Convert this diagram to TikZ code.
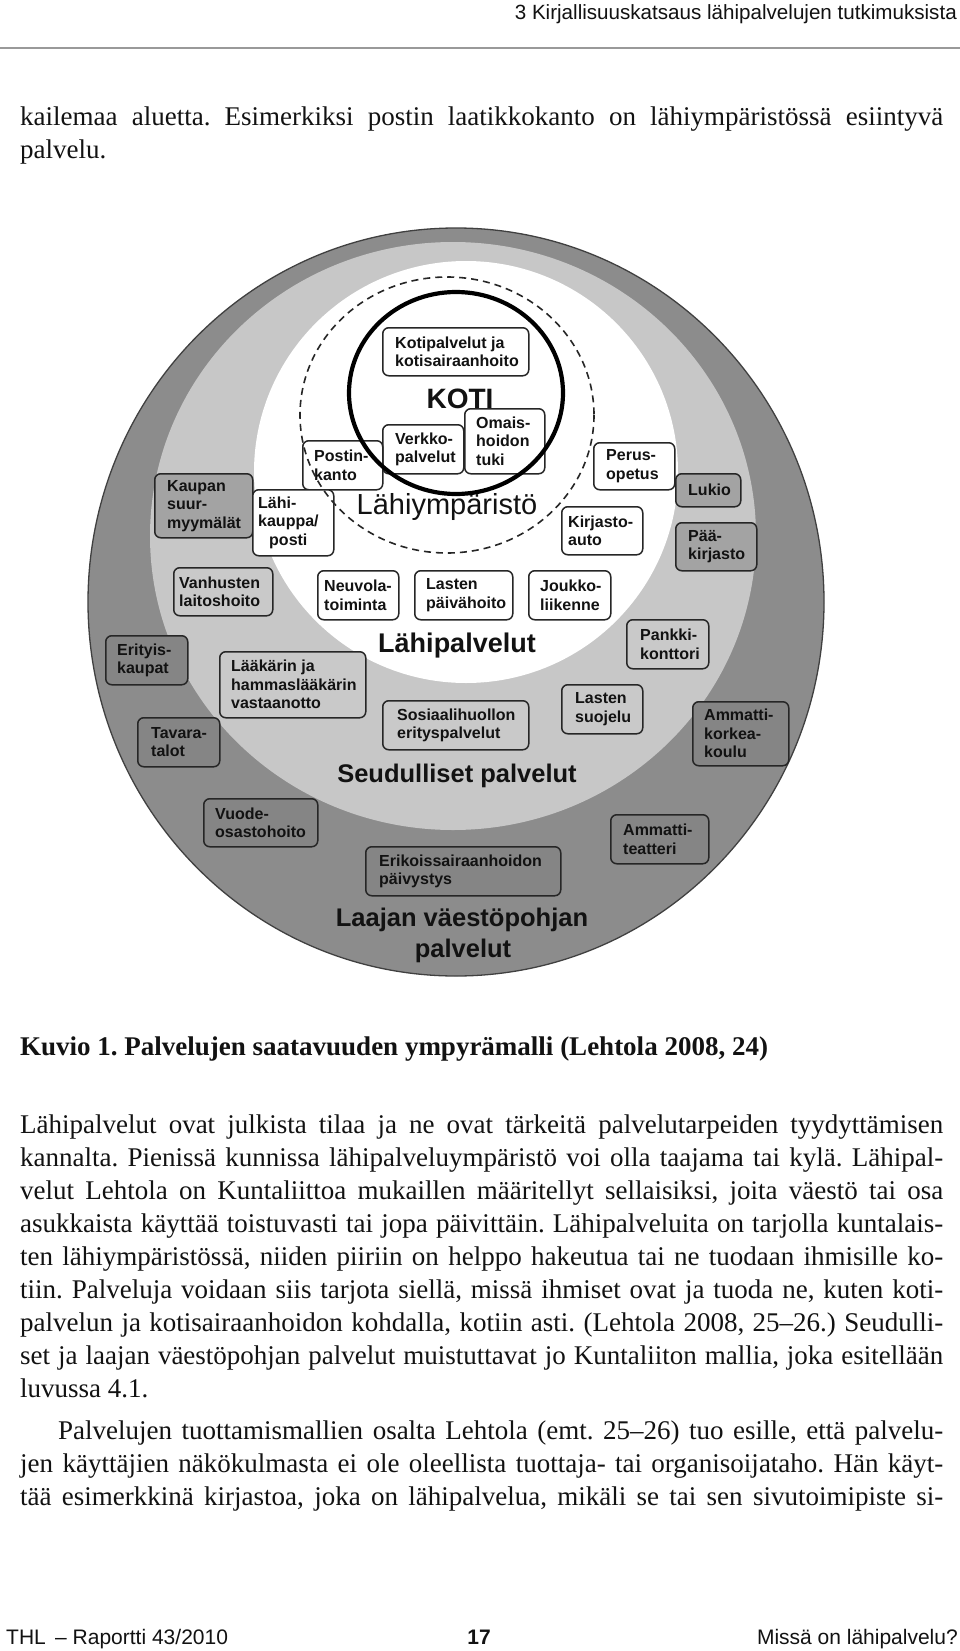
\documentclass[tikz,border=0pt]{standalone}
\usepackage{fontspec}
\setmainfont{Liberation Serif}
\newfontfamily\arial{Liberation Sans}
\definecolor{dk}{gray}{0.55}
\definecolor{lt}{gray}{0.78}
\definecolor{bxdk}{gray}{0.52}
\definecolor{bxmd}{gray}{0.64}
\definecolor{bxlt}{gray}{0.79}
\definecolor{ink}{gray}{0.07}
\newcommand\jl[1]{\hbox to 923pt{#1}}
\newcommand\bx[8]{%
  \node[box, fill=#6, anchor=north west, minimum width={#4-#2}, minimum height={#5-#3}] (#1) at (#2,#3) {};
  \node[lbl, anchor=west] (#1t) at ([xshift=#7pt]#1.west) {#8};}
\begin{document}
\frenchspacing
\begin{tikzpicture}[x=1pt,y=-1pt,
  box/.style={draw=black!85, line width=1.5pt, rounded corners=6pt, inner sep=0pt},
  lbl/.style={font=\arial\bfseries\fontsize{16}{18.5}\selectfont, align=left, inner sep=0pt, text=ink},
  body/.style={anchor=base west, inner sep=0pt, text=ink, font=\fontsize{27}{33}\selectfont},
  ttl/.style={anchor=base, inner sep=0pt, text=ink},
  sans/.style={inner sep=0pt, text=ink}]
\useasboundingbox (0,0) rectangle (960,1651);
\fill[white] (0,0) rectangle (960,1651);

% header
\node[sans, anchor=base east, font=\arial\fontsize{20.6}{24}\selectfont] (hdr) at (957,20) {3 Kirjallisuuskatsaus lähipalvelujen tutkimuksista};
\coordinate (rl) at (0,48);
\coordinate (rr) at (960,48);
\draw[line width=2.5pt, black!40] (rl) -- (rr);

% top text
\node[body] (t1) at (20,125) {\jl{kailemaa aluetta. Esimerkiksi postin laatikkokanto on lähiympäristössä esiintyvä}};
\node[body] (t2) at (20,158) {palvelu.};

% rings
\draw[line width=1.3pt, black!75, fill=dk] (456,602) ellipse [x radius=368, y radius=374];
\fill[lt] (453,536) ellipse [x radius=303, y radius=294];
\fill[white] (466,472) ellipse [x radius=212, y radius=211];

% titles
\node[ttl, font=\arial\bfseries\fontsize{28}{30}\selectfont] (koti) at (460,408) {KOTI};
\node[ttl, font=\arial\fontsize{29}{31}\selectfont] (lym) at (447,514) {Lähiympäristö};
\node[ttl, font=\arial\bfseries\fontsize{27}{30}\selectfont] (lpt) at (457,652) {Lähipalvelut};
\node[ttl, font=\arial\bfseries\fontsize{25.5}{30}\selectfont] (spt) at (457,782) {Seudulliset palvelut};
\node[ttl, font=\arial\bfseries\fontsize{25.5}{30}\selectfont] (lv1) at (462,926) {Laajan väestöpohjan};
\node[ttl, font=\arial\bfseries\fontsize{25.5}{30}\selectfont] (lv2) at (463,957) {palvelut};

% boxes
\bx{kp}{382}{327}{528}{375}{white}{13}{Kotipalvelut ja\\kotisairaanhoito}
\bx{vp}{382}{424}{463}{473}{white}{13}{Verkko-\\palvelut}
\bx{oh}{464}{408}{544}{473}{white}{12}{Omais-\\hoidon\\tuki}
\bx{pk}{302}{440}{382}{489}{white}{12}{Postin-\\kanto}
\bx{ks}{154}{473}{252}{537}{bxmd}{13}{Kaupan\\suur-\\myymälät}
\bx{lk}{252}{489}{333}{555}{white}{6}{Lähi-\\kauppa/\\\hspace*{11pt}posti}
\bx{po}{593}{442}{674}{489}{white}{13}{Perus-\\opetus}
\bx{lu}{675}{473}{740}{506}{bxmd}{13}{Lukio}
\bx{pa}{675}{522}{756}{570}{bxmd}{13}{Pää-\\kirjasto}
\bx{ka}{561}{506}{642}{554}{white}{7}{Kirjasto-\\auto}
\bx{vl}{173}{567}{272}{615}{bxlt}{6}{Vanhusten\\laitoshoito}
\bx{nt}{317}{570}{398}{619}{white}{7}{Neuvola-\\toiminta}
\bx{lp}{414}{570}{512}{619}{white}{12}{Lasten\\päivähoito}
\bx{jl}{528}{570}{610}{619}{white}{12}{Joukko-\\liikenne}
\bx{pko}{626}{619}{708}{668}{bxlt}{14}{Pankki-\\konttori}
\bx{ek}{105}{635}{187}{684}{bxdk}{12}{Erityis-\\kaupat}
\bx{lh}{219}{651}{365}{717}{bxlt}{12}{Lääkärin ja\\hammaslääkärin\\vastaanotto}
\bx{se}{382}{700}{528}{749}{bxlt}{15}{Sosiaalihuollon\\erityspalvelut}
\bx{ls}{561}{684}{642}{733}{bxlt}{14}{Lasten\\suojelu}
\bx{ak}{692}{701}{788}{765}{bxdk}{12}{Ammatti-\\korkea-\\koulu}
\bx{tt}{137}{717}{219}{766}{bxdk}{14}{Tavara-\\talot}
\bx{vo}{203}{798}{317}{846}{bxdk}{12}{Vuode-\\osastohoito}
\bx{es}{365}{846}{560}{895}{bxdk}{14}{Erikoissairaanhoidon\\päivystys}
\bx{at}{610}{814}{708}{863}{bxdk}{13}{Ammatti-\\teatteri}

% circles
\draw[dash pattern=on 7pt off 5pt, line width=1.6pt, black!85] (447,415) ellipse [x radius=147, y radius=138];
\draw[line width=4.2pt, black] (456,393) ellipse [x radius=107, y radius=101];

% caption
\node[body, font=\bfseries\fontsize{27}{33}\selectfont] (cap) at (20,1055) {Kuvio 1. Palvelujen saatavuuden ympyrämalli (Lehtola 2008, 24)};

% paragraph
\node[body] (p1) at (20,1133) {\jl{Lähipalvelut ovat julkista tilaa ja ne ovat tärkeitä palvelutarpeiden tyydyttämisen}};
\node[body] (p2) at (20,1166) {\jl{kannalta. Pienissä kunnissa lähipalveluympäristö voi olla taajama tai kylä. Lähipal-}};
\node[body] (p3) at (20,1199) {\jl{velut Lehtola on Kuntaliittoa mukaillen määritellyt sellaisiksi, joita väestö tai osa}};
\node[body] (p4) at (20,1232) {\jl{asukkaista käyttää toistuvasti tai jopa päivittäin. Lähipalveluita on tarjolla kuntalais-}};
\node[body] (p5) at (20,1265) {\jl{ten lähiympäristössä, niiden piiriin on helppo hakeutua tai ne tuodaan ihmisille ko-}};
\node[body] (p6) at (20,1298) {\jl{tiin. Palveluja voidaan siis tarjota siellä, missä ihmiset ovat ja tuoda ne, kuten koti-}};
\node[body] (p7) at (20,1331) {\jl{palvelun ja kotisairaanhoidon kohdalla, kotiin asti. (Lehtola 2008, 25–26.) Seudulli-}};
\node[body] (p8) at (20,1364) {\jl{set ja laajan väestöpohjan palvelut muistuttavat jo Kuntaliiton mallia, joka esitellään}};
\node[body] (p9) at (20,1397) {luvussa 4.1.};
\node[body] (q1) at (58,1439) {\hbox to 885pt{Palvelujen tuottamismallien osalta Lehtola (emt. 25–26) tuo esille, että palvelu-}};
\node[body] (q2) at (20,1472) {\jl{jen käyttäjien näkökulmasta ei ole oleellista tuottaja- tai organisoijataho. Hän käyt-}};
\node[body] (q3) at (20,1505) {\jl{tää esimerkkinä kirjastoa, joka on lähipalvelua, mikäli se tai sen sivutoimipiste si-}};

% footer
\node[sans, anchor=base west, font=\arial\fontsize{21}{24}\selectfont] (f1) at (6,1644) {THL \,– Raportti 43/2010};
\node[sans, anchor=base, font=\arial\bfseries\fontsize{21}{24}\selectfont] (f2) at (479,1644) {17};
\node[sans, anchor=base east, font=\arial\fontsize{21}{24}\selectfont] (f3) at (958,1644) {Missä on lähipalvelu?};
\end{tikzpicture}
\end{document}
